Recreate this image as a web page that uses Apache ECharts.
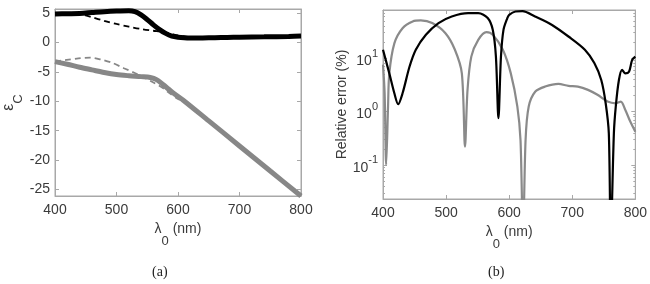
<!DOCTYPE html>
<html>
<head>
<meta charset="utf-8">
<script src="https://cdn.jsdelivr.net/npm/echarts@6/dist/echarts.min.js"></script>
<style>
html,body{margin:0;padding:0;background:#fff;}
#c{width:650px;height:284px;}
</style>
</head>
<body>
<div id="c"></div>
<script>
// ---- Panel (a): epsilon_C vs wavelength ----
var aBlackSolidX = [400,420,440,460,480,500,520,530,540,550,560,570,580,590,600,610,620,640,660,680,700,740,780,800];
var aBlackSolidY = [4.85,4.9,4.95,5.1,5.25,5.35,5.4,5.25,4.7,3.9,3.0,2.2,1.55,1.1,0.9,0.8,0.77,0.78,0.82,0.87,0.9,0.96,1.04,1.1];
var aBlackDashX = [400,420,440,450,460,480,500,520,540,560,575,590,600,620,650,700,750,800];
var aBlackDashY = [4.85,4.9,4.85,4.6,4.3,3.7,3.15,2.7,2.3,2.0,1.8,1.45,1.2,0.95,0.82,0.9,0.98,1.1];
var aGreySolidX = [400,420,440,460,480,500,520,540,555,565,575,585,595,608,650,700,750,800];
var aGreySolidY = [-3.24,-3.7,-4.2,-4.65,-5.1,-5.45,-5.65,-5.8,-5.95,-6.3,-7.1,-7.95,-8.8,-9.76,-13.33,-17.59,-21.85,-26.1];
var aGreyDashX = [400,419,438,457,475,494,512,528,544,560,576,586,600,608,650,700,750,800];
var aGreyDashY = [-3.24,-2.95,-2.7,-2.56,-2.9,-3.5,-4.37,-5.1,-5.9,-6.8,-7.77,-8.6,-9.6,-9.9,-13.4,-17.6,-21.85,-26.1];

// ---- Panel (b): relative error (%) vs wavelength ----
var bBlackX = [400,410,418,424,431,442,452,468,488,509,535,551,566,574,579,583,587,591,597,600,610,621,641,668,694,720,735,746,753,758,761,766,769,774,779,784,790,795,800];
var bBlackY = [14.4,5.2,2.2,1.37,2.2,6.9,14.4,27.5,45.5,60.5,70,70,56.5,34,10.7,0.75,10.7,34,56,65,75,76,60.5,42,25.5,14.4,8.1,3.9,1.43,0.39,0.004,0.39,1.24,3.9,6.06,5.2,5.6,9.3,10.7];
var bGreyX = [400,402.6,405,408,410,418,431,447,460,478,499,514,525,530,534,540,551,564,574,590,602.6,613,618,622,626,631,641.5,657,678,694,709,725,740,756,769,777,784,792,800];
var bGreyY = [7.6,2.2,0.1,1.24,5.2,19,36.5,48.8,51,45.5,29.4,14.4,5.2,0.22,2.55,10.7,22,30.7,27.5,14.4,5.2,1.24,0.29,0.004,0.29,1.24,2.37,2.94,3.3,3.03,2.94,2.55,2.06,1.54,1.43,1.54,1.08,0.65,0.42];

// axis settings
var xMin = 400, xMax = 800, xStep = 100;
var aYMin = -26.1, aYMax = 5.7;
var bYMin = 0.023, bYMax = 80;

function zip(xs, ys){ return xs.map(function(x,i){ return [x, ys[i]]; }); }

var frameColor = '#a8a8a8';
var labelColor = '#3a3a3a';
var fontFam = '"Liberation Sans", Arial, Helvetica, sans-serif';

function xAx(grid, pos, showLabel, withName){
  var o = {
    type: 'value', gridIndex: grid, position: pos, min: xMin, max: xMax, interval: xStep,
    axisLine: {show: true, onZero: false, lineStyle: {color: frameColor, width: 1}},
    axisTick: {show: true, inside: true, length: 4, lineStyle: {color: frameColor}},
    axisLabel: {show: showLabel, color: labelColor, fontSize: 14, fontFamily: fontFam, margin: 7},
    splitLine: {show: false}
  };
  if (withName) {
    o.name = '{l|λ}{s|0}{l| (nm)}';
    o.nameLocation = 'middle';
    o.nameGap = 23;
    o.nameTextStyle = {
      color: labelColor, fontFamily: fontFam,
      rich: {
        l: {fontSize: 14, fontFamily: fontFam, color: labelColor, verticalAlign: 'top', lineHeight: 16},
        s: {fontSize: 13, fontFamily: fontFam, color: labelColor, verticalAlign: 'bottom', lineHeight: 26}
      }
    };
  }
  return o;
}

var supDigits = function(v){
  var e = Math.log10(v);
  var r = Math.round(e);
  if (Math.abs(e - r) > 1e-6) return '';
  return '{b|10}{s|' + r + '}';
};

var option = {
  animation: false,
  backgroundColor: '#fff',
  grid: [
    {left: 49, top: 9, width: 252, height: 187, show: true, borderColor: frameColor, borderWidth: 1, backgroundColor: 'transparent'},
    {left: 383, top: 10, width: 257, height: 189, show: true, borderColor: frameColor, borderWidth: 1, backgroundColor: 'transparent'}
  ],
  xAxis: [
    xAx(0, 'bottom', true, true),
    xAx(0, 'top', false, false),
    xAx(1, 'bottom', true, true),
    xAx(1, 'top', false, false)
  ],
  yAxis: [
    {
      type: 'value', gridIndex: 0, position: 'left', min: aYMin, max: aYMax,
      axisLine: {show: true, lineStyle: {color: frameColor}},
      axisTick: {show: true, inside: true, length: 4, lineStyle: {color: frameColor}},
      axisLabel: {color: labelColor, fontSize: 14, fontFamily: fontFam, margin: 5, showMinLabel: false, showMaxLabel: false,
        formatter: function(v){ return (Math.abs(v % 5) < 1e-6) ? String(v) : ''; }},
      splitLine: {show: false},
      name: '{l|ε}{s|C}', nameLocation: 'middle', nameGap: 30, nameRotate: 90,
      nameTextStyle: {
        color: labelColor,
        rich: {
          l: {fontSize: 16, fontFamily: fontFam, color: labelColor, verticalAlign: 'top', lineHeight: 16},
          s: {fontSize: 13, fontFamily: fontFam, color: labelColor, verticalAlign: 'bottom', lineHeight: 24}
        }
      }
    },
    {
      type: 'value', gridIndex: 0, position: 'right', min: aYMin, max: aYMax,
      axisLine: {show: true, lineStyle: {color: frameColor}},
      axisTick: {show: true, inside: true, length: 4, lineStyle: {color: frameColor}},
      axisLabel: {show: false}, splitLine: {show: false}
    },
    {
      type: 'log', logBase: 10, gridIndex: 1, position: 'left', min: bYMin, max: bYMax,
      axisLine: {show: true, lineStyle: {color: frameColor}},
      axisTick: {show: true, inside: true, length: 4, lineStyle: {color: frameColor}},
      minorTick: {show: true, splitNumber: 9, length: 2, lineStyle: {color: frameColor}},
      axisLabel: {color: labelColor, fontFamily: fontFam, margin: 5, formatter: supDigits,
        rich: {
          b: {fontSize: 14, fontFamily: fontFam, color: labelColor, verticalAlign: 'bottom', lineHeight: 20},
          s: {fontSize: 11, fontFamily: fontFam, color: labelColor, verticalAlign: 'top', lineHeight: 11}
        }},
      splitLine: {show: false},
      name: 'Relative error (%)', nameLocation: 'middle', nameGap: 30, nameRotate: 90,
      nameTextStyle: {color: labelColor, fontSize: 14, fontFamily: fontFam}
    },
    {
      type: 'log', logBase: 10, gridIndex: 1, position: 'right', min: bYMin, max: bYMax,
      axisLine: {show: true, lineStyle: {color: frameColor}},
      axisTick: {show: true, inside: true, length: 4, lineStyle: {color: frameColor}},
      minorTick: {show: true, splitNumber: 9, length: 2, lineStyle: {color: frameColor}},
      axisLabel: {show: false}, splitLine: {show: false}
    }
  ],
  graphic: [
    {type: 'text', left: 152, top: 265, style: {text: '(a)', font: '14px "Liberation Serif", "Times New Roman", serif', fill: '#222'}},
    {type: 'text', left: 488, top: 265, style: {text: '(b)', font: '14px "Liberation Serif", "Times New Roman", serif', fill: '#222'}}
  ],
  series: [
    {type: 'line', xAxisIndex: 0, yAxisIndex: 0, data: zip(aBlackSolidX, aBlackSolidY), smooth: 0.3, showSymbol: false,
     lineStyle: {color: '#000', width: 5}, z: 2},
    {type: 'line', xAxisIndex: 0, yAxisIndex: 0, data: zip(aGreySolidX, aGreySolidY), smooth: 0.3, showSymbol: false,
     lineStyle: {color: '#878787', width: 5}, z: 2},
    {type: 'line', xAxisIndex: 0, yAxisIndex: 0, data: zip(aBlackDashX, aBlackDashY), smooth: 0.3, showSymbol: false,
     lineStyle: {color: '#000', width: 1.8, type: [6, 4]}, z: 3},
    {type: 'line', xAxisIndex: 0, yAxisIndex: 0, data: zip(aGreyDashX, aGreyDashY), smooth: 0.3, showSymbol: false,
     lineStyle: {color: '#878787', width: 1.8, type: [6, 4]}, z: 3},
    {type: 'line', xAxisIndex: 2, yAxisIndex: 2, data: zip(bGreyX, bGreyY), smooth: 0.3, showSymbol: false, clip: true,
     lineStyle: {color: '#8a8a8a', width: 2.2}, z: 2},
    {type: 'line', xAxisIndex: 2, yAxisIndex: 2, data: zip(bBlackX, bBlackY), smooth: 0.3, showSymbol: false, clip: true,
     lineStyle: {color: '#000', width: 2.2}, z: 3}
  ]
};

var chart = echarts.init(document.getElementById('c'), null, {renderer: 'canvas'});
chart.setOption(option);
</script>
</body>
</html>
